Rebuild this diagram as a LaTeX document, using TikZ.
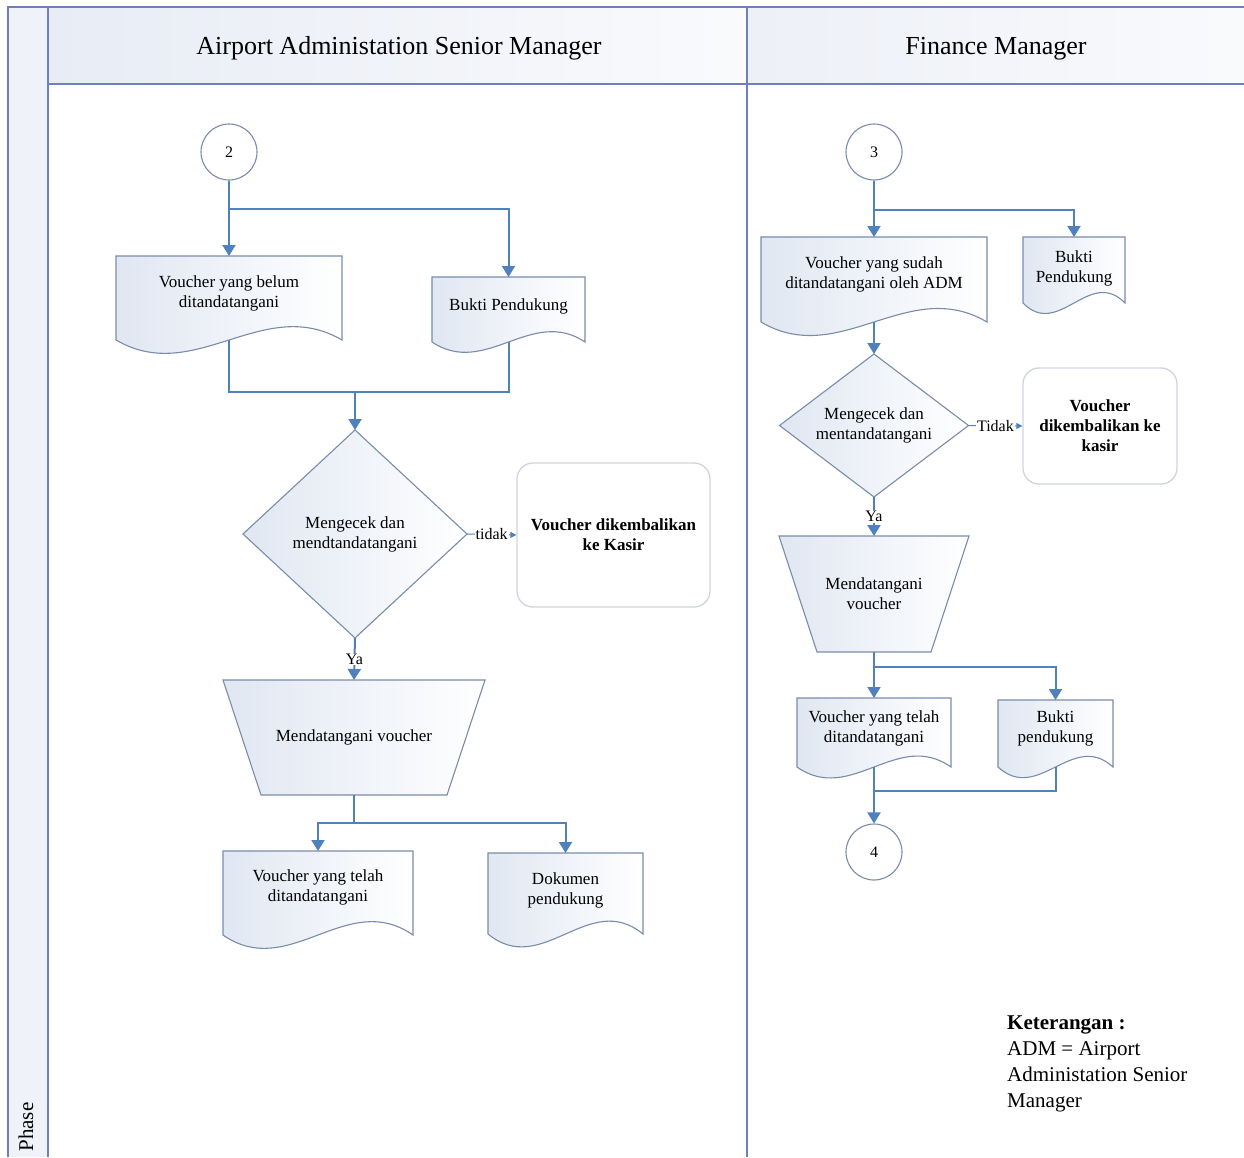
\documentclass[tikz,border=0pt]{standalone}
\usepackage{fontspec}
\setmainfont{Liberation Serif}
\usetikzlibrary{arrows.meta,calc}

\definecolor{frameline}{RGB}{112,126,186}
\definecolor{connc}{RGB}{79,129,189}
\definecolor{shapeline}{RGB}{122,140,170}
\definecolor{shapefill}{RGB}{224,231,242}
\definecolor{hdrfill}{RGB}{232,236,245}
\definecolor{rrline}{RGB}{208,212,222}

\tikzset{
  frame/.style={draw=frameline, line width=1.4pt},
  shp/.style={draw=shapeline, line width=1.1pt, left color=shapefill, right color=white},
  txtbox/.style={inner sep=0pt, outer sep=0pt, align=center, font=\fontsize{17}{20}\selectfont},
  rrect/.style={draw=rrline, line width=1.3pt, fill=white, rounded corners=16pt, align=center,
    inner sep=0pt, font=\fontsize{17}{20}\selectfont\bfseries},
  conncirc/.style={circle, draw=shapeline, line width=1.1pt, fill=white, minimum size=56pt,
    inner sep=0pt, font=\fontsize{16}{19}\selectfont},
  arr/.style={draw=connc, line width=2pt, -{Triangle[width=13pt,length=11pt]}},
  ln/.style={draw=connc, line width=2pt},
  arrthin/.style={draw=connc, line width=1pt, -{Triangle[width=6pt,length=6pt]}},
  lbl/.style={fill=white, inner sep=1pt, font=\fontsize{16}{19}\selectfont},
  hdr/.style={font=\fontsize{26}{30}\selectfont, inner sep=0pt},
  legend/.style={align=left, inner sep=0pt, font=\fontsize{21}{25.7}\selectfont}
}

% document shape: name, x1, x2, ytop, yside, ytext, text
\newcommand\mkdoc[7]{%
  \path[shp] (#2,#4) -- (#3,#4) -- (#3,#5)
    .. controls ({#3-0.35*(#3-#2)},{#5-0.55*(#5-#4)}) and ({#2+0.35*(#3-#2)},{#5+0.55*(#5-#4)}) .. (#2,#5) -- cycle;
  \node[txtbox, minimum width={(#3-#2)*1pt}, minimum height={2*(#6-#4)*1pt}] (#1) at ({(#2+#3)/2},#6) {#7};
  \coordinate (#1-b) at ({(#2+#3)/2},#5);
}
% decision: name, xc, yc, w, h, text
\newcommand\mkdia[6]{%
  \path[shp] ({#2-#4/2},#3) -- (#2,{#3-#5/2}) -- ({#2+#4/2},#3) -- (#2,{#3+#5/2}) -- cycle;
  \node[txtbox, minimum width={#4*1pt}, minimum height={#5*1pt}] (#1) at (#2,#3) {#6};
}
% manual operation: name, xc, ytop, ybot, wtop, wbot, text
\newcommand\mktrap[7]{%
  \path[shp] ({#2-#5/2},#3) -- ({#2+#5/2},#3) -- ({#2+#6/2},#4) -- ({#2-#6/2},#4) -- cycle;
  \node[txtbox, minimum width={#5*1pt}, minimum height={(#4-#3)*1pt}] (#1) at (#2,{(#3+#4)/2}) {#7};
}

\begin{document}
\begin{tikzpicture}[x=1pt,y=-1pt]
\useasboundingbox (0,0) rectangle (1244,1157);
\fill[white] (0,0) rectangle (1244,1157);
% swimlane frame
\fill[hdrfill!70] (8,7) rectangle (48,1157);
\shade[left color=hdrfill, right color=hdrfill!25] (48,7) rectangle (747,84);
\shade[left color=hdrfill!80, right color=hdrfill!25] (747,7) rectangle (1244,84);
\draw[frame] (8,1157) -- (8,7) -- (1244,7);
\draw[frame] (48,7) -- (48,1157);
\draw[frame] (48,84) -- (1244,84);
\draw[frame] (747,7) -- (747,1157);

\node[hdr, anchor=base] (h1) at (399,54) {Airport Administation Senior Manager};
\node[hdr, anchor=base] (h2) at (996,54) {Finance Manager};
\node[hdr, font=\fontsize{21}{24}\selectfont, rotate=90, anchor=base] (ph) at (33,1127) {Phase};

% ---------- left lane ----------
\node[conncirc] (c2) at (229,152) {2};
\mkdoc{docA}{116}{342}{256}{340}{293}{Voucher yang belum\\ditandatangani}
\mkdoc{docB}{432}{585}{277}{342}{306}{Bukti Pendukung}
\mkdia{dA}{355}{534}{224}{208}{Mengecek dan\\mendtandatangani}
\node[rrect, minimum width=193pt, minimum height=144pt] (rA) at (613.5,535) {Voucher dikembalikan\\ke Kasir};
\mktrap{tA}{354}{680}{795}{262}{186}{Mendatangani voucher}
\mkdoc{docC}{223}{413}{851}{935}{887}{Voucher yang telah\\ditandatangani}
\mkdoc{docD}{488}{643}{853}{934}{890}{Dokumen\\pendukung}
\coordinate (jA) at (355,392);

\draw[arr] (c2.south) -- (docA.north);
\draw[arr] (c2.south) -- ++(0,28) -| (docB.north);
\draw[ln] (docA-b) |- (jA) -| (docB-b);
\draw[arr] (jA) -- (dA.north);
\draw[arrthin] (dA.east) -- node[lbl] (tidA) {tidak} (rA.west);
\draw[arr] (dA.south) -- node[lbl] (yaA) {Ya} (tA.north);
\draw[arr] (tA.south) -- ++(0,28) -| (docC.north);
\draw[arr] (tA.south) -- ++(0,28) -| (docD.north);

% ---------- right lane ----------
\node[conncirc] (c3) at (874,152) {3};
\mkdoc{docE}{761}{987}{237}{322}{274}{Voucher yang sudah\\ditandatangani oleh ADM}
\mkdoc{docF}{1023}{1125}{237}{303}{268}{Bukti\\Pendukung}
\mkdia{dB}{874}{425.5}{189}{143}{Mengecek dan\\mentandatangani}
\node[rrect, minimum width=154pt, minimum height=116pt] (rB) at (1100,426) {Voucher\\dikembalikan ke\\kasir};
\mktrap{tB}{874}{536}{652}{190}{114}{Mendatangani\\voucher}
\mkdoc{docG}{797}{951}{698}{767}{728}{Voucher yang telah\\ditandatangani}
\mkdoc{docH}{998}{1113}{700}{767}{728}{Bukti\\pendukung}
\node[conncirc] (c4) at (874,852) {4};
\coordinate (jB) at (874,791);

\draw[arr] (c3.south) -- (docE.north);
\draw[arr] (c3.south) -- ++(0,29) -| (docF.north);
\draw[arr] (docE-b) -- (dB.north);
\draw[arrthin] (dB.east) -- node[lbl] (tidB) {Tidak} (rB.west);
\draw[arr] (dB.south) -- node[lbl] (yaB) {Ya} (tB.north);
\draw[arr] (tB.south) -- ++(0,15) -| (docG.north);
\draw[arr] (tB.south) -- ++(0,15) -| (docH.north);
\draw[ln] (docG-b) |- (jB) -| (docH-b);
\draw[arr] (jB) -- (c4.north);

% legend
\node[legend, anchor=north west] (leg) at (1007,1016) {\textbf{Keterangan :}\\ADM = Airport\\Administation Senior\\Manager};
\end{tikzpicture}
\end{document}
